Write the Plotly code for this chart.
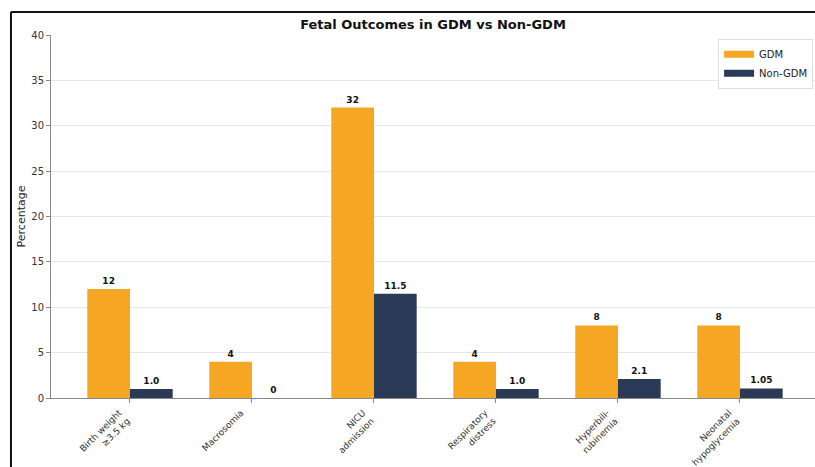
import plotly.graph_objects as go

categories = [
    "Birth weight<br>≥3.5 kg",
    "Macrosomia",
    "NICU<br>admission",
    "Respiratory<br>distress",
    "Hyperbili-<br>rubinemia",
    "Neonatal<br>hypoglycemia",
]
gdm_values = [12, 4, 32, 4, 8, 8]
gdm_labels = ["12", "4", "32", "4", "8", "8"]
non_gdm_values = [1.0, 0, 11.5, 1.0, 2.1, 1.05]
non_gdm_labels = ["1.0", "0", "11.5", "1.0", "2.1", "1.05"]
y_ticks = [0, 5, 10, 15, 20, 25, 30, 35, 40]

GDM_COLOR = "#F5A623"
NON_GDM_COLOR = "#2B3A57"
FONT = "DejaVu Sans"
label_font = dict(family=FONT, size=9, color="#111111", weight="bold")

fig = go.Figure()
fig.add_trace(go.Bar(
    name="GDM", x=categories, y=gdm_values, text=gdm_labels,
    marker=dict(color=GDM_COLOR, line=dict(width=0)),
    textposition="outside", cliponaxis=False, textfont=label_font,
    showlegend=False, legendgroup="gdm",
))
fig.add_trace(go.Bar(
    name="Non-GDM", x=categories, y=non_gdm_values, text=non_gdm_labels,
    marker=dict(color=NON_GDM_COLOR, line=dict(width=0)),
    textposition="outside", cliponaxis=False, textfont=label_font,
    showlegend=False, legendgroup="non",
))
# Legend keys drawn as wide flat patches
for name, color, grp in [("GDM", GDM_COLOR, "gdm"), ("Non-GDM", NON_GDM_COLOR, "non")]:
    fig.add_trace(go.Scatter(
        x=[None], y=[None], mode="lines", name=name, legendgroup=grp,
        line=dict(color=color, width=7), hoverinfo="skip",
    ))

# Page frame: left and top black rules
frame = dict(type="line", xref="paper", yref="paper", line=dict(color="#111111", width=2))
fig.add_shape(x0=-0.0524, x1=-0.0524, y0=-0.3, y1=1.0634, **frame)
fig.add_shape(x0=-0.0524, x1=1.01, y0=1.0634, y1=1.0634, **frame)

fig.update_layout(
    width=815, height=467,
    margin=dict(l=51, r=0, t=35, b=69, autoexpand=False),
    paper_bgcolor="white", plot_bgcolor="white",
    barmode="group", bargap=0.3, bargroupgap=0,
    font=dict(family=FONT, size=10, color="#333333"),
    title=dict(text="<b>Fetal Outcomes in GDM vs Non-GDM</b>",
               x=0.5, xref="paper", y=0.948, yanchor="middle",
               font=dict(family=FONT, size=13, color="#111111")),
    legend=dict(x=0.9975, y=0.99, xanchor="right", yanchor="top",
                bordercolor="#dddddd", borderwidth=1, bgcolor="white",
                font=dict(family=FONT, size=10, color="#222222"),
                itemwidth=30, tracegroupgap=0),
    showlegend=True,
)
fig.update_xaxes(
    type="category", range=[-0.6475, 5.615], automargin=False,
    showline=True, linecolor="#888888", linewidth=1,
    ticks="outside", ticklen=4, tickcolor="#888888",
    tickangle=-45, showgrid=False, ticklabelshift=-11, ticklabelstandoff=1,
    tickfont=dict(family=FONT, size=9, color="#333333"),
)
fig.update_yaxes(
    range=[0, 40], tickvals=y_ticks, automargin=False,
    showline=True, linecolor="#888888", linewidth=1,
    ticks="outside", ticklen=4, tickcolor="#888888",
    showgrid=True, gridcolor="#e6e6e6", gridwidth=1,
    zeroline=False,
    tickfont=dict(family=FONT, size=10, color="#333333"),
    title=dict(text="Percentage", standoff=3,
               font=dict(family=FONT, size=11, color="#222222")),
)

fig.write_html("out.html")
